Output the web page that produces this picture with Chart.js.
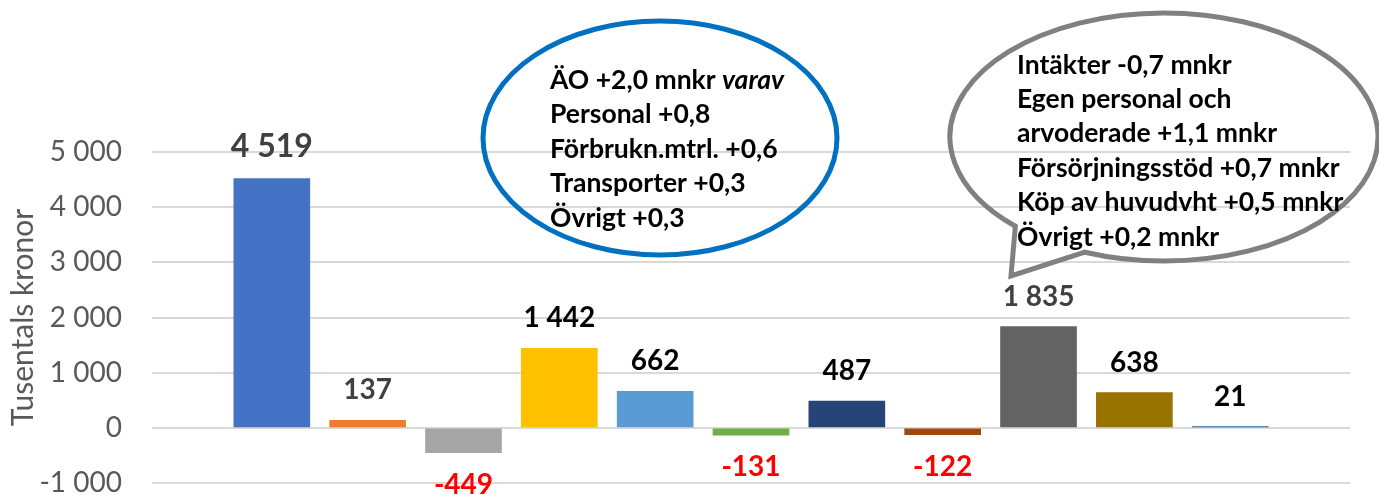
<!DOCTYPE html>
<html><head><meta charset="utf-8">
<script src="https://cdn.jsdelivr.net/npm/chart.js@4"></script>
<style>html,body{margin:0;padding:0;background:#fff;}#wrap{width:1379px;height:495px;position:relative}</style>
</head><body><div id="wrap"><canvas id="c" width="1379" height="495"></canvas></div>
<script>
// ---- data ----
const categories = ['Post 1','Post 2','Post 3','Post 4','Post 5','Post 6','Post 7','Post 8','Post 9','Post 10','Post 11'];
const values = [4519, 137, -449, 1442, 662, -131, 487, -122, 1835, 638, 21];
const yTicks = [-1000, 0, 1000, 2000, 3000, 4000, 5000];
const axisTitle = 'Tusentals kronor';
const calloutBlue = ['ÄO +2,0 mnkr ', 'Personal +0,8', 'Förbrukn.mtrl. +0,6', 'Transporter +0,3', 'Övrigt +0,3'];
const calloutBlueItalic = 'varav';
const calloutGray = ['Intäkter -0,7 mnkr', 'Egen personal och', 'arvoderade +1,1 mnkr', 'Försörjningsstöd +0,7 mnkr', 'Köp av huvudvht +0,5 mnkr', 'Övrigt +0,2 mnkr'];

// ---- styles ----
const barColors = ['#4472C4','#ED7D31','#A5A5A5','#FFC000','#5B9BD5','#70AD47','#264478','#9E480E','#636363','#997300','#255E91'];
const labelColors = ['#404040','#404040','#FF0000','#000000','#000000','#FF0000','#000000','#FF0000','#404040','#000000','#000000'];
const labelSizes = [32,28,28,28,28,28,28,28,28,28,28];
const FONT = 'Lato';
const TARGET = { left: 152, top: 152, right: 1350, bottom: 483 };

function fmt(v){
  const s = Math.abs(v).toString().replace(/\B(?=(\d{3})+(?!\d))/g, ' ');
  return (v < 0 ? '-' : '') + s;
}

const labelPlugin = {
  id: 'barLabels',
  afterDatasetsDraw(chart){
    const ctx = chart.ctx;
    const meta = chart.getDatasetMeta(0);
    ctx.save();
    ctx.textAlign = 'center';
    ctx.textBaseline = 'middle';
    meta.data.forEach((bar, i) => {
      const v = values[i];
      const sz = labelSizes[i];
      ctx.font = `bold ${sz}px ${FONT}`;
      ctx.fillStyle = labelColors[i];
      const off = sz * 0.5 + 16;
      const y = v < 0 ? bar.y + off + 2 : bar.y - off;
      ctx.fillText(fmt(v), bar.x, y);
    });
    ctx.restore();
  }
};

const calloutPlugin = {
  id: 'callouts',
  afterDraw(chart){
    const ctx = chart.ctx;
    ctx.save();
    ctx.beginPath();
    ctx.ellipse(660, 138, 177, 117, 0, 0, Math.PI * 2);
    ctx.lineWidth = 5;
    ctx.strokeStyle = '#0070C0';
    ctx.stroke();

    const cx = 1164, cy = 137, rx = 214, ry = 124;
    const a1 = 111.7 * Math.PI / 180, a2 = 134 * Math.PI / 180;
    ctx.beginPath();
    ctx.ellipse(cx, cy, rx, ry, 0, a1, a2, true);
    ctx.lineTo(1011, 276);
    ctx.closePath();
    ctx.lineWidth = 5;
    ctx.lineJoin = 'miter';
    ctx.strokeStyle = '#808080';
    ctx.stroke();

    ctx.fillStyle = '#000000';
    ctx.textAlign = 'left';
    ctx.textBaseline = 'middle';
    const fs = 26.5;
    calloutBlue.forEach((t, i) => {
      const y = 80 + i * 34.5;
      ctx.font = `bold ${fs}px ${FONT}`;
      ctx.fillText(t, 550, y);
      if (i === 0) {
        const w = ctx.measureText(t).width;
        ctx.font = `italic bold ${fs}px ${FONT}`;
        ctx.fillText(calloutBlueItalic, 550 + w, y);
      }
    });
    ctx.font = `bold ${fs}px ${FONT}`;
    calloutGray.forEach((t, i) => {
      ctx.fillText(t, 1017, 65 + i * 34.4);
    });
    ctx.restore();
  }
};

const chart = new Chart(document.getElementById('c').getContext('2d'), {
  type: 'bar',
  data: {
    labels: categories,
    datasets: [{
      data: values.map((v, i) => ({ x: i, y: v })),
      backgroundColor: barColors,
      borderWidth: 0,
      barThickness: 76
    }]
  },
  options: {
    responsive: false,
    animation: false,
    devicePixelRatio: 1,
    layout: { padding: { left: 0, top: TARGET.top, right: 1379 - TARGET.right, bottom: 495 - TARGET.bottom } },
    plugins: { legend: { display: false }, tooltip: { enabled: false }, title: { display: false } },
    scales: {
      x: {
        type: 'linear',
        offset: false,
        min: -1.25,
        max: categories.length + 0.25,
        display: false,
        grid: { display: false }
      },
      y: {
        min: yTicks[0],
        max: yTicks[yTicks.length - 1],
        afterBuildTicks: s => { s.ticks = yTicks.map(v => ({ value: v })); },
        ticks: { callback: v => fmt(v), font: { family: FONT, size: 28 }, color: '#595959', padding: 30 },
        grid: { color: '#D9D9D9', lineWidth: 2, drawTicks: false },
        border: { display: false },
        title: { display: true, text: axisTitle, font: { family: FONT, size: 30 }, color: '#595959', padding: { top: 5, bottom: 0 } },
        afterFit: s => { s.width = TARGET.left; s.paddingTop = 0; s.paddingBottom = 0; }
      }
    }
  },
  plugins: [labelPlugin, calloutPlugin]
});
</script>
</body></html>
